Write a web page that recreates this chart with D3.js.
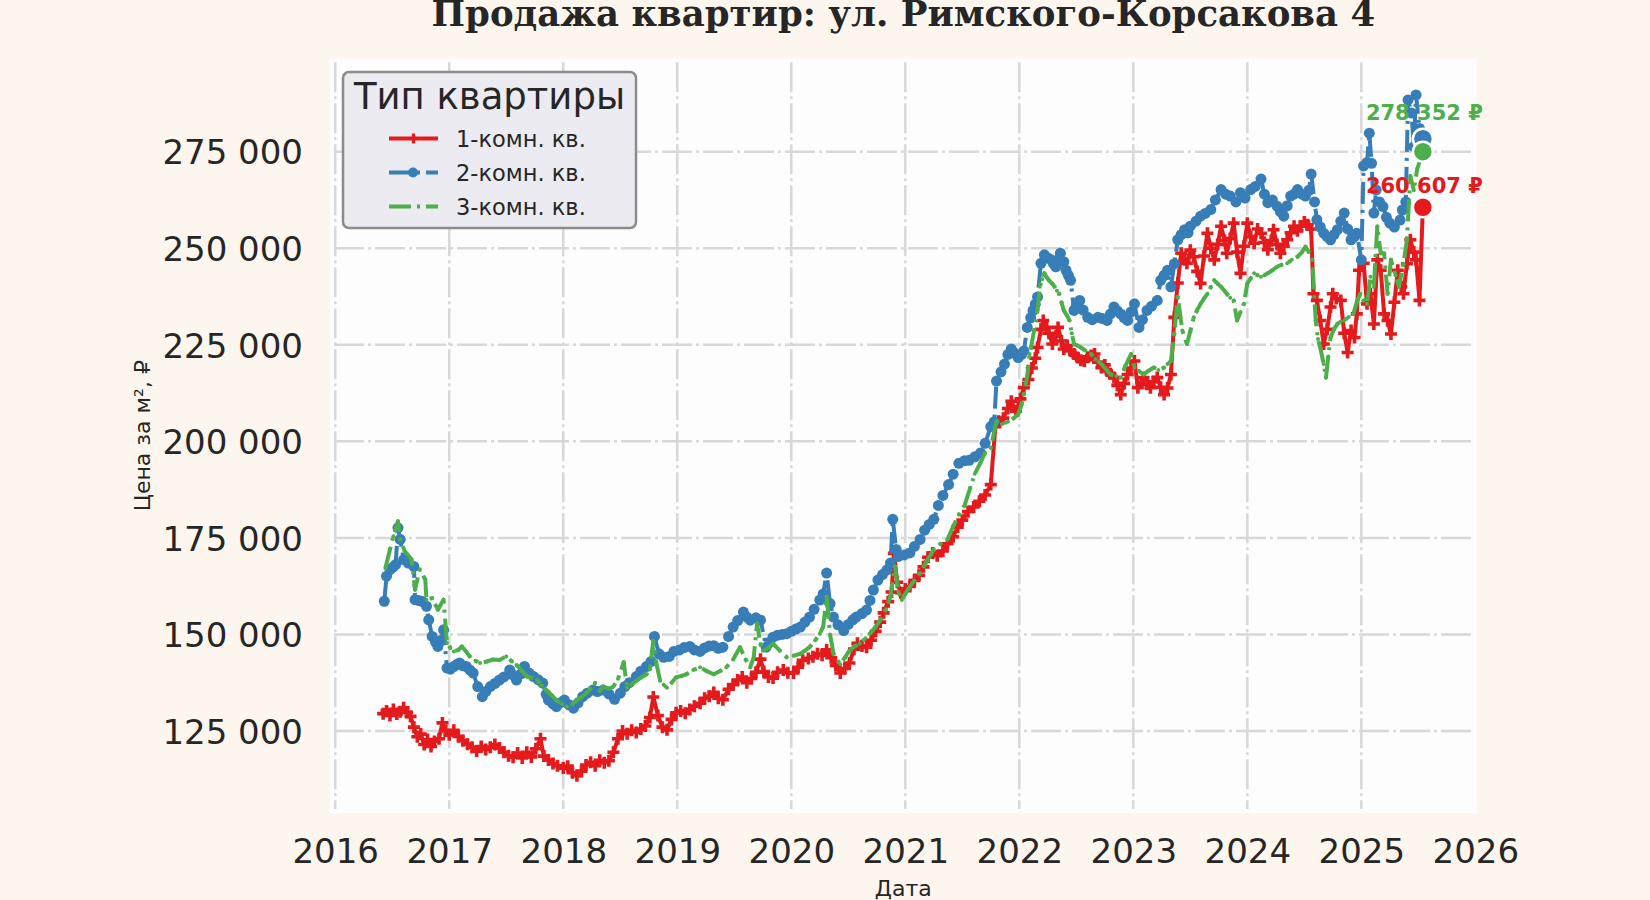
<!DOCTYPE html>
<html>
<head>
<meta charset="utf-8">
<script src="https://cdn.jsdelivr.net/npm/d3@7"></script>
<style>
  body { margin: 0; background: #fdf6ee; }
  svg { display: block; font-family: "DejaVu Sans", sans-serif; }
</style>
</head>
<body>
<svg></svg>
<script>
// ====== Données ====== //
const chartTitle = "Продажа квартир: ул. Римского-Корсакова 4";
const legendTitle = "Тип квартиры";
const xLabel = "Дата";
const yLabel = "Цена за м², ₽";

const xTicks = [2016, 2017, 2018, 2019, 2020, 2021, 2022, 2023, 2024, 2025, 2026];
const yTicks = [125, 150, 175, 200, 225, 250, 275]; // en milliers de ₽

const seriesNames = ["1-комн. кв.", "2-комн. кв.", "3-комн. кв."];
const seriesColors = ["#e41a1c", "#377eb8", "#4daf4a"];

// [année décimale, prix au m² en milliers de ₽]
const room1 = [
  [2016.42,129.5],[2016.45,130.2],[2016.48,129.0],[2016.51,130.6],[2016.54,129.4],[2016.57,130.0],
  [2016.60,131.0],[2016.63,129.8],[2016.66,128.8],[2016.69,126.0],[2016.72,123.5],[2016.75,124.2],
  [2016.78,121.5],[2016.81,122.8],[2016.84,121.0],[2016.87,122.3],[2016.91,123.0],[2016.94,127.1],
  [2016.97,125.0],[2017.00,124.0],[2017.04,125.2],[2017.08,123.6],[2017.12,122.5],[2017.16,121.6],
  [2017.20,120.8],[2017.24,119.8],[2017.28,121.0],[2017.32,120.2],[2017.36,120.8],[2017.40,121.5],
  [2017.44,120.6],[2017.48,119.5],[2017.52,118.6],[2017.56,118.2],[2017.60,119.3],[2017.64,118.0],
  [2017.68,119.5],[2017.72,118.3],[2017.76,120.4],[2017.80,123.0],[2017.83,118.5],[2017.87,117.5],
  [2017.91,116.6],[2017.95,116.0],[2018.00,115.4],[2018.04,115.9],[2018.08,114.2],[2018.12,113.4],
  [2018.16,114.6],[2018.20,116.2],[2018.24,116.9],[2018.28,116.0],[2018.32,117.4],[2018.36,116.8],
  [2018.40,117.3],[2018.44,119.5],[2018.48,123.0],[2018.52,125.0],[2018.56,124.3],[2018.60,125.2],
  [2018.64,124.6],[2018.68,125.5],[2018.72,126.3],[2018.76,128.5],[2018.79,133.8],[2018.83,129.0],
  [2018.87,126.0],[2018.91,125.3],[2018.95,128.0],[2018.99,129.7],[2019.03,130.2],[2019.07,129.6],
  [2019.11,130.6],[2019.15,131.4],[2019.20,132.2],[2019.24,133.5],[2019.28,134.0],[2019.32,135.0],
  [2019.36,133.5],[2019.40,133.1],[2019.45,135.8],[2019.49,137.0],[2019.53,138.2],[2019.57,139.0],
  [2019.61,137.5],[2019.65,138.6],[2019.69,140.2],[2019.73,143.6],[2019.76,140.4],[2019.80,139.0],
  [2019.84,138.7],[2019.88,140.2],[2019.93,140.8],[2019.97,140.1],[2020.02,140.0],[2020.06,141.5],
  [2020.10,143.3],[2020.15,143.8],[2020.19,144.2],[2020.23,145.0],[2020.27,144.6],[2020.31,146.0],
  [2020.35,144.0],[2020.39,142.0],[2020.43,140.0],[2020.47,141.2],[2020.51,142.6],[2020.55,146.2],
  [2020.58,147.7],[2020.62,147.0],[2020.66,146.7],[2020.70,148.5],[2020.74,150.8],[2020.78,153.2],
  [2020.81,155.6],[2020.85,158.5],[2020.88,161.0],[2020.90,171.0],[2020.93,163.5],[2020.96,160.8],
  [2021.00,161.8],[2021.04,162.4],[2021.08,164.0],[2021.12,165.3],[2021.16,167.5],[2021.20,170.0],
  [2021.24,171.1],[2021.28,170.4],[2021.33,171.6],[2021.37,173.5],[2021.42,175.3],[2021.46,177.8],
  [2021.50,179.6],[2021.55,181.8],[2021.60,183.0],[2021.65,184.5],[2021.70,186.1],[2021.75,188.8],
  [2021.79,203.8],[2021.82,205.2],[2021.86,206.0],[2021.90,208.5],[2021.93,210.4],[2021.97,207.8],
  [2022.01,211.0],[2022.04,213.9],[2022.08,216.0],[2022.11,219.0],[2022.14,221.5],[2022.16,224.3],
  [2022.19,229.0],[2022.21,231.3],[2022.24,229.5],[2022.26,228.0],[2022.29,225.2],[2022.32,227.2],
  [2022.34,229.5],[2022.37,226.0],[2022.39,223.9],[2022.42,224.8],[2022.45,223.4],[2022.48,222.6],
  [2022.51,221.7],[2022.54,221.0],[2022.57,220.8],[2022.60,221.8],[2022.63,222.2],[2022.66,222.6],
  [2022.69,220.5],[2022.72,219.1],[2022.75,219.8],[2022.77,218.2],[2022.80,217.5],[2022.83,216.5],
  [2022.86,214.5],[2022.89,212.1],[2022.92,215.0],[2022.95,217.3],[2022.98,219.0],[2023.01,220.8],
  [2023.04,213.9],[2023.07,215.2],[2023.09,216.5],[2023.12,214.8],[2023.15,213.9],[2023.18,215.5],
  [2023.21,216.5],[2023.24,214.0],[2023.27,212.1],[2023.30,213.8],[2023.33,217.3],[2023.36,232.1],
  [2023.39,241.0],[2023.42,248.7],[2023.45,247.0],[2023.47,246.1],[2023.50,249.5],[2023.53,247.8],
  [2023.56,244.0],[2023.59,240.9],[2023.62,248.0],[2023.65,253.9],[2023.68,250.0],[2023.71,247.0],
  [2023.74,251.0],[2023.77,255.7],[2023.80,252.0],[2023.82,248.7],[2023.85,252.5],[2023.88,256.5],
  [2023.91,249.0],[2023.94,243.5],[2023.97,250.5],[2024.00,256.5],[2024.03,253.0],[2024.06,251.3],
  [2024.09,255.0],[2024.12,253.9],[2024.15,251.5],[2024.18,249.6],[2024.21,252.0],[2024.23,254.8],
  [2024.26,251.0],[2024.29,248.7],[2024.32,250.5],[2024.35,252.2],[2024.38,254.0],[2024.41,255.7],
  [2024.44,254.5],[2024.47,255.7],[2024.50,256.8],[2024.53,256.1],[2024.56,255.0],[2024.58,238.2],
  [2024.61,236.5],[2024.64,231.3],[2024.67,225.2],[2024.70,229.0],[2024.73,234.8],[2024.75,238.2],
  [2024.78,237.0],[2024.82,236.5],[2024.85,228.0],[2024.88,223.0],[2024.91,228.7],[2024.94,226.9],
  [2024.96,233.0],[2024.98,244.3],[2025.02,246.1],[2025.05,235.6],[2025.08,238.2],[2025.11,230.4],
  [2025.14,247.0],[2025.17,244.3],[2025.20,233.0],[2025.23,231.3],[2025.26,227.8],[2025.29,236.0],
  [2025.32,244.3],[2025.35,240.0],[2025.37,238.2],[2025.40,246.0],[2025.43,252.2],[2025.46,249.0],
  [2025.48,247.0],[2025.51,236.5],[2025.54,260.607]
];

const room2 = [
  [2016.43,158.6],[2016.45,165.1],[2016.48,166.8],[2016.51,167.5],[2016.53,168.1],[2016.55,177.6],
  [2016.57,174.6],[2016.60,169.4],[2016.64,168.5],[2016.69,167.6],[2016.70,159.0],[2016.73,158.8],
  [2016.76,158.6],[2016.80,157.3],[2016.82,153.8],[2016.85,149.5],[2016.88,148.0],[2016.90,146.9],
  [2016.93,148.5],[2016.95,151.2],[2016.98,141.3],[2017.01,141.0],[2017.04,141.7],[2017.07,142.3],
  [2017.09,142.6],[2017.12,141.9],[2017.15,141.7],[2017.18,140.8],[2017.21,140.0],[2017.25,136.5],
  [2017.29,133.9],[2017.32,135.2],[2017.36,136.5],[2017.40,137.3],[2017.44,138.2],[2017.48,139.0],
  [2017.53,140.8],[2017.56,139.5],[2017.59,138.2],[2017.63,139.8],[2017.66,141.7],[2017.70,140.0],
  [2017.74,139.1],[2017.78,138.3],[2017.82,137.4],[2017.85,134.5],[2017.87,133.0],[2017.91,132.0],
  [2017.94,131.3],[2017.98,132.4],[2018.01,133.0],[2018.05,131.8],[2018.09,130.9],[2018.13,132.3],
  [2018.17,133.9],[2018.21,134.8],[2018.26,135.6],[2018.30,135.2],[2018.35,135.6],[2018.40,134.6],
  [2018.45,133.2],[2018.50,134.8],[2018.54,136.5],[2018.58,137.5],[2018.64,139.1],[2018.68,140.5],
  [2018.73,141.7],[2018.77,143.0],[2018.80,149.5],[2018.84,145.0],[2018.88,144.1],[2018.93,144.3],
  [2018.97,145.6],[2019.02,146.0],[2019.06,146.6],[2019.11,146.9],[2019.15,146.0],[2019.20,145.6],
  [2019.24,146.5],[2019.28,147.0],[2019.32,147.1],[2019.36,146.4],[2019.40,146.7],[2019.45,149.5],
  [2019.49,151.9],[2019.53,153.6],[2019.58,155.8],[2019.61,154.5],[2019.64,153.7],[2019.69,154.3],
  [2019.73,153.7],[2019.78,146.7],[2019.81,148.0],[2019.84,149.3],[2019.88,149.8],[2019.92,150.0],
  [2019.96,150.2],[2020.00,150.8],[2020.04,151.4],[2020.08,151.9],[2020.12,153.2],[2020.16,154.5],
  [2020.20,156.5],[2020.25,158.9],[2020.28,160.5],[2020.31,165.9],[2020.34,158.0],[2020.37,154.5],
  [2020.41,152.5],[2020.46,151.0],[2020.50,152.6],[2020.54,153.8],[2020.57,154.5],[2020.62,155.4],
  [2020.66,156.3],[2020.69,158.8],[2020.72,161.5],[2020.76,164.1],[2020.80,165.5],[2020.84,166.7],
  [2020.87,168.5],[2020.89,179.8],[2020.92,172.0],[2020.94,170.2],[2020.99,170.6],[2021.04,171.1],
  [2021.08,172.8],[2021.13,174.6],[2021.17,177.0],[2021.21,178.5],[2021.25,179.8],[2021.29,183.4],
  [2021.33,186.0],[2021.38,188.8],[2021.42,191.5],[2021.47,194.3],[2021.52,195.0],[2021.56,195.1],
  [2021.61,196.0],[2021.66,197.0],[2021.70,199.5],[2021.75,203.8],[2021.78,205.1],[2021.80,215.6],
  [2021.84,218.0],[2021.87,220.0],[2021.90,222.5],[2021.93,223.9],[2021.96,222.8],[2021.99,221.7],
  [2022.02,222.5],[2022.04,223.4],[2022.07,229.5],[2022.10,232.0],[2022.12,233.9],[2022.14,235.5],
  [2022.16,237.4],[2022.19,246.1],[2022.22,248.3],[2022.25,247.5],[2022.28,247.0],[2022.30,246.0],
  [2022.32,245.2],[2022.34,247.0],[2022.36,248.7],[2022.39,246.5],[2022.41,244.3],[2022.43,243.0],
  [2022.45,241.7],[2022.48,233.9],[2022.50,235.0],[2022.53,236.5],[2022.56,234.0],[2022.60,232.1],
  [2022.64,231.5],[2022.69,232.1],[2022.73,231.8],[2022.77,231.3],[2022.80,233.0],[2022.83,234.8],
  [2022.86,233.8],[2022.89,233.0],[2022.92,232.0],[2022.95,231.3],[2022.98,233.5],[2023.01,235.6],
  [2023.05,229.5],[2023.08,231.5],[2023.12,233.9],[2023.16,235.0],[2023.21,236.5],[2023.24,241.7],
  [2023.27,243.0],[2023.30,244.3],[2023.33,240.0],[2023.36,246.0],[2023.39,252.2],[2023.42,253.5],
  [2023.45,254.8],[2023.48,254.0],[2023.50,255.7],[2023.55,257.0],[2023.59,258.3],[2023.63,259.0],
  [2023.68,260.0],[2023.72,262.5],[2023.77,265.2],[2023.81,264.0],[2023.85,263.5],[2023.90,262.0],
  [2023.94,264.4],[2023.98,263.0],[2024.03,265.2],[2024.07,266.0],[2024.12,267.9],[2024.15,264.0],
  [2024.18,261.8],[2024.22,262.5],[2024.26,260.9],[2024.29,259.5],[2024.32,258.3],[2024.35,261.0],
  [2024.38,263.5],[2024.41,264.0],[2024.44,265.2],[2024.48,264.0],[2024.51,263.5],[2024.54,265.0],
  [2024.56,269.2],[2024.59,262.0],[2024.61,257.4],[2024.64,255.5],[2024.67,253.9],[2024.70,253.0],
  [2024.73,252.2],[2024.76,253.5],[2024.79,254.8],[2024.82,257.0],[2024.85,259.1],[2024.88,255.0],
  [2024.91,252.2],[2024.94,253.0],[2024.96,253.9],[2025.00,247.0],[2025.02,271.3],[2025.05,272.2],
  [2025.07,279.8],[2025.09,272.0],[2025.11,259.1],[2025.13,265.1],[2025.16,262.0],[2025.19,260.8],
  [2025.22,258.0],[2025.25,256.5],[2025.29,255.5],[2025.34,257.3],[2025.36,259.9],[2025.39,262.0],
  [2025.41,288.4],[2025.44,285.0],[2025.46,276.3],[2025.48,289.7],[2025.51,281.0],[2025.54,278.352]
];

const room3 = [
  [2016.44,167.2],[2016.48,172.0],[2016.51,175.4],[2016.55,179.3],[2016.57,174.6],[2016.61,171.5],
  [2016.64,170.5],[2016.67,169.4],[2016.70,161.6],[2016.74,166.8],[2016.79,164.2],[2016.80,159.0],
  [2016.85,159.4],[2016.90,156.4],[2016.95,159.0],[2016.98,147.8],[2017.01,146.5],[2017.04,145.6],
  [2017.08,146.0],[2017.11,146.9],[2017.15,145.5],[2017.18,144.3],[2017.23,143.2],[2017.27,142.6],
  [2017.33,143.0],[2017.38,143.5],[2017.44,143.4],[2017.50,144.3],[2017.55,143.0],[2017.59,142.1],
  [2017.64,140.5],[2017.68,139.1],[2017.72,138.8],[2017.77,138.2],[2017.81,136.8],[2017.85,135.6],
  [2017.90,134.2],[2017.94,133.0],[2017.99,132.0],[2018.03,131.3],[2018.08,132.0],[2018.12,133.0],
  [2018.16,133.8],[2018.20,134.8],[2018.24,136.0],[2018.28,137.4],[2018.32,135.4],[2018.35,136.5],
  [2018.40,136.0],[2018.44,136.5],[2018.48,138.5],[2018.53,142.8],[2018.56,136.2],[2018.60,137.0],
  [2018.64,138.0],[2018.68,138.8],[2018.73,139.7],[2018.76,141.0],[2018.79,148.4],[2018.82,142.0],
  [2018.85,138.0],[2018.88,137.0],[2018.91,136.2],[2018.95,137.5],[2018.99,138.9],[2019.04,139.3],
  [2019.08,139.7],[2019.14,140.8],[2019.20,141.5],[2019.26,140.5],[2019.32,139.7],[2019.38,140.6],
  [2019.43,141.5],[2019.49,143.5],[2019.55,146.7],[2019.60,143.5],[2019.64,141.5],[2019.67,144.0],
  [2019.70,152.8],[2019.73,147.5],[2019.75,145.8],[2019.80,146.5],[2019.84,147.6],[2019.90,145.8],
  [2019.96,144.1],[2020.02,144.5],[2020.08,145.0],[2020.12,145.8],[2020.16,146.7],[2020.21,148.5],
  [2020.25,150.2],[2020.28,152.0],[2020.31,159.8],[2020.34,150.0],[2020.37,145.0],[2020.43,142.3],
  [2020.47,144.0],[2020.51,145.8],[2020.55,146.8],[2020.60,147.6],[2020.65,149.0],[2020.69,150.2],
  [2020.74,152.0],[2020.78,153.7],[2020.83,156.5],[2020.87,159.8],[2020.91,167.6],[2020.94,161.0],
  [2020.97,158.9],[2021.00,160.5],[2021.04,162.4],[2021.08,164.0],[2021.13,165.9],[2021.19,169.0],
  [2021.25,172.0],[2021.31,173.5],[2021.37,174.6],[2021.42,178.0],[2021.47,181.0],[2021.52,183.4],
  [2021.57,188.0],[2021.61,191.6],[2021.66,194.5],[2021.70,197.0],[2021.75,198.4],[2021.80,205.2],
  [2021.85,204.5],[2021.90,205.1],[2021.95,206.0],[2021.99,206.9],[2022.02,209.5],[2022.04,212.1],
  [2022.07,217.0],[2022.09,222.6],[2022.11,225.5],[2022.13,228.7],[2022.16,234.0],[2022.18,240.0],
  [2022.20,242.0],[2022.22,243.5],[2022.24,242.5],[2022.26,241.7],[2022.29,240.8],[2022.31,240.0],
  [2022.33,239.0],[2022.35,238.2],[2022.37,236.0],[2022.39,233.9],[2022.42,232.5],[2022.44,231.3],
  [2022.46,228.0],[2022.48,225.2],[2022.51,224.8],[2022.54,224.3],[2022.58,223.5],[2022.63,222.6],
  [2022.67,221.3],[2022.72,220.0],[2022.76,218.7],[2022.80,217.3],[2022.85,216.9],[2022.89,216.5],
  [2022.93,219.5],[2022.98,222.6],[2023.01,219.1],[2023.05,218.2],[2023.09,217.3],[2023.13,218.2],
  [2023.18,219.1],[2023.22,218.5],[2023.27,219.1],[2023.30,220.0],[2023.33,220.8],[2023.36,228.0],
  [2023.39,237.4],[2023.43,228.7],[2023.47,225.2],[2023.50,228.5],[2023.53,232.1],[2023.56,234.0],
  [2023.59,235.6],[2023.62,237.0],[2023.65,238.2],[2023.68,240.0],[2023.71,241.7],[2023.74,240.8],
  [2023.77,240.0],[2023.80,239.0],[2023.82,238.2],[2023.85,237.2],[2023.88,236.5],[2023.91,231.3],
  [2023.94,233.5],[2023.97,235.6],[2024.00,240.9],[2024.03,242.2],[2024.06,243.5],[2024.09,243.0],
  [2024.12,242.6],[2024.15,243.0],[2024.18,243.5],[2024.22,244.3],[2024.26,245.2],[2024.30,245.7],
  [2024.35,246.1],[2024.39,247.0],[2024.44,247.8],[2024.48,249.0],[2024.51,250.4],[2024.54,249.0],
  [2024.57,247.0],[2024.60,231.3],[2024.62,226.5],[2024.64,224.3],[2024.67,220.0],[2024.69,216.5],
  [2024.71,222.0],[2024.73,226.9],[2024.76,229.0],[2024.79,230.4],[2024.82,231.0],[2024.85,231.3],
  [2024.89,232.2],[2024.93,233.0],[2024.96,236.0],[2024.99,238.2],[2025.02,236.5],[2025.05,235.6],
  [2025.08,242.6],[2025.11,240.0],[2025.14,255.7],[2025.17,248.7],[2025.20,248.7],[2025.23,238.2],
  [2025.26,247.0],[2025.30,243.0],[2025.33,240.0],[2025.37,246.0],[2025.40,252.2],[2025.43,268.7],
  [2025.46,265.0],[2025.49,270.5],[2025.54,275.0]
];

// étiquettes des dernières valeurs (valeur en ₽, couleur)
const lastLabelValues = [278352, 260607];
const lastLabelColors = ["#4daf4a", "#e41a1c"];

// ====== Constantes de mise en page ====== //
const width = 1650;
const height = 900;
const plot = { left: 330, right: 1476.7, top: 58.3, bottom: 813 };
const labelDy = [-19, -14]; // décalage vertical des étiquettes

const svg = d3.select("svg")
    .attr("width", width)
    .attr("height", height);

svg.append("rect")
    .attr("width", width).attr("height", height)
    .attr("fill", "#fdf6ee");

// zone du graphique
svg.append("rect")
    .attr("x", plot.left).attr("y", plot.top)
    .attr("width", plot.right - plot.left)
    .attr("height", plot.bottom - plot.top)
    .attr("fill", "#fdfdfe");

// Échelles
const x = d3.scaleLinear()
    .domain([2015.954, 2026.012])
    .range([plot.left, plot.right]);

const y = d3.scaleLinear()
    .domain([103.77, 299.18])
    .range([plot.bottom, plot.top]);

const fmtRub = v => d3.format(",")(Math.round(v)).replace(/,/g, " ");

// Grille (tirets-points)
const grid = svg.append("g")
    .attr("stroke", "#d8d8d8")
    .attr("stroke-width", 2.5)
    .attr("stroke-dasharray", "30,4,3,4");

grid.selectAll(".vgrid")
    .data(xTicks.filter(d => x(d) < plot.right - 3))
    .enter().append("line")
    .attr("x1", d => x(d)).attr("x2", d => x(d))
    .attr("y1", plot.top + 4).attr("y2", plot.bottom - 4);

grid.selectAll(".hgrid")
    .data(yTicks)
    .enter().append("line")
    .attr("x1", plot.left + 4).attr("x2", plot.right - 4)
    .attr("y1", d => y(d)).attr("y2", d => y(d));

// Axes (sans lignes, seulement les étiquettes)
const xAxis = svg.append("g")
    .attr("transform", `translate(0,${plot.bottom})`)
    .call(d3.axisBottom(x).tickValues(xTicks).tickFormat(d3.format("d")).tickSize(0).tickPadding(50));
const yAxis = svg.append("g")
    .attr("transform", `translate(${plot.left},0)`)
    .call(d3.axisLeft(y).tickValues(yTicks).tickFormat(d => fmtRub(d * 1000)).tickSize(0).tickPadding(27));

[xAxis, yAxis].forEach(a => {
    a.select(".domain").remove();
    a.selectAll("text")
        .attr("font-family", "DejaVu Sans")
        .attr("font-size", 34)
        .attr("fill", "#262626");
});
yAxis.selectAll("text").attr("dy", "0.36em");
xAxis.selectAll("text").attr("dy", "0");

// Titres des axes
svg.append("text")
    .attr("x", (plot.left + plot.right) / 2)
    .attr("y", 896)
    .attr("text-anchor", "middle")
    .attr("font-size", 22)
    .attr("fill", "#262626")
    .text(xLabel);

svg.append("text")
    .attr("transform", `translate(150,${(plot.top + plot.bottom) / 2}) rotate(-90)`)
    .attr("text-anchor", "middle")
    .attr("font-size", 22)
    .attr("fill", "#262626")
    .text(yLabel);

// Titre
svg.append("text")
    .attr("x", (plot.left + plot.right) / 2)
    .attr("y", 26)
    .attr("text-anchor", "middle")
    .attr("font-family", "DejaVu Serif")
    .attr("font-weight", "bold")
    .attr("font-size", 35.5)
    .attr("fill", "#262626")
    .text(chartTitle);

// ====== Courbes ====== //
const line = d3.line()
    .x(d => x(d[0]))
    .y(d => y(d[1]));

const plusPath = "M-6,0H6M0,-6V6";
const seriesData = [room1, room2, room3];
const dashes = [null, "22,6,3,6", "22,6,3,6"];

seriesData.forEach((data, i) => {
    const g = svg.append("g");
    g.append("path")
        .datum(data)
        .attr("d", line)
        .attr("fill", "none")
        .attr("stroke", seriesColors[i])
        .attr("stroke-width", 4)
        .attr("stroke-linejoin", "round")
        .attr("stroke-dasharray", dashes[i]);

    if (i === 0) {
        g.selectAll(".m")
            .data(data)
            .enter().append("path")
            .attr("d", plusPath)
            .attr("transform", d => `translate(${x(d[0])},${y(d[1])})`)
            .attr("stroke", seriesColors[i])
            .attr("stroke-width", 3.6);
    } else if (i === 1) {
        g.selectAll(".m")
            .data(data)
            .enter().append("circle")
            .attr("cx", d => x(d[0]))
            .attr("cy", d => y(d[1]))
            .attr("r", 5.5)
            .attr("fill", seriesColors[i]);
    } else {
        g.selectAll(".m")
            .data(data)
            .enter().append("circle")
            .attr("cx", d => x(d[0]))
            .attr("cy", d => y(d[1]))
            .attr("r", 2)
            .attr("fill", seriesColors[i]);
    }
});

// Gros points sur la dernière valeur
[room2, room3, room1].forEach(data => {
    const last = data[data.length - 1];
    const i = seriesData.indexOf(data);
    svg.append("circle")
        .attr("cx", x(last[0]))
        .attr("cy", y(last[1]))
        .attr("r", 10)
        .attr("fill", seriesColors[i])
        .attr("stroke", "#ffffff")
        .attr("stroke-width", 2.5);
});

// Étiquettes des dernières valeurs
const lastX = x(room1[room1.length - 1][0]);
lastLabelValues.forEach((v, i) => {
    svg.append("text")
        .attr("x", lastX - 57)
        .attr("y", y(v / 1000) + labelDy[i])
        .attr("font-size", 21)
        .attr("font-weight", "bold")
        .attr("fill", lastLabelColors[i])
        .text(fmtRub(v) + " ₽");
});

// ====== Légende ====== //
const legend = svg.append("g").attr("transform", "translate(343,72)");
legend.append("rect")
    .attr("width", 293).attr("height", 156)
    .attr("rx", 6)
    .attr("fill", "#ebebf1")
    .attr("stroke", "#8c8c8c")
    .attr("stroke-width", 2.5);
legend.append("text")
    .attr("x", 146.5).attr("y", 37)
    .attr("text-anchor", "middle")
    .attr("font-size", 37)
    .attr("fill", "#262626")
    .text(legendTitle);

seriesNames.forEach((name, i) => {
    const cy = 66.5 + i * 34;
    const row = legend.append("g");
    row.append("line")
        .attr("x1", 46).attr("x2", 95)
        .attr("y1", cy).attr("y2", cy)
        .attr("stroke", seriesColors[i])
        .attr("stroke-width", 4)
        .attr("stroke-dasharray", dashes[i]);
    if (i === 0) {
        row.append("path").attr("d", "M-5,0H5M0,-5V5")
            .attr("transform", `translate(70.5,${cy})`)
            .attr("stroke", seriesColors[i]).attr("stroke-width", 3.2);
    } else if (i === 1) {
        row.append("circle").attr("cx", 70).attr("cy", cy).attr("r", 5)
            .attr("fill", seriesColors[i]);
    }
    row.append("text")
        .attr("x", 113).attr("y", cy + 8)
        .attr("font-size", 22.5)
        .attr("fill", "#262626")
        .text(name);
});
</script>
</body>
</html>
